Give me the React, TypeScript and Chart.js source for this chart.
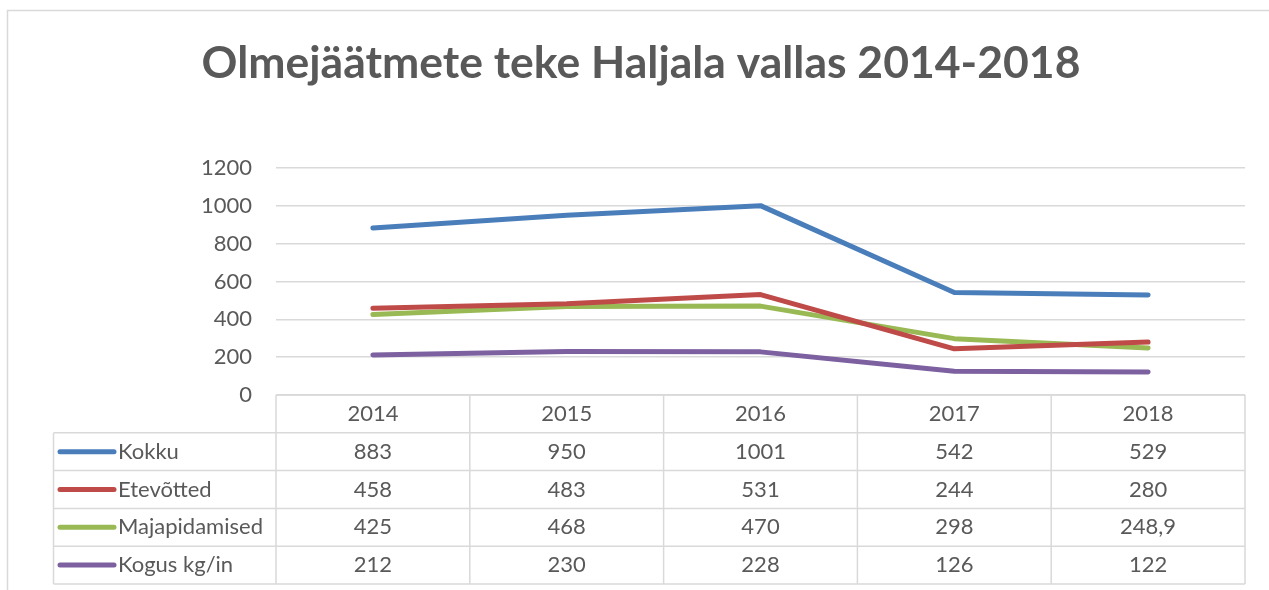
import React, { useEffect, useRef } from "react";
import { Chart, registerables } from "chart.js";

Chart.register(...registerables);

const TITLE = "Olmejäätmete teke Haljala vallas 2014-2018";
const years = ["2014", "2015", "2016", "2017", "2018"];
const seriesNames = ["Kokku", "Etevõtted", "Majapidamised", "Kogus kg/in"];
const kokku = [883, 950, 1001, 542, 529];
const ettevotted = [458, 483, 531, 244, 280];
const majapidamised = [425, 468, 470, 298, 248.9];
const kogus = [212, 230, 228, 126, 122];
const seriesColors = ["#4A7EBB", "#BE4B48", "#98B954", "#7D60A0"];
const yMin = 0;
const yMax = 1200;
const yStep = 200;

const TEXT = "#595959";
const LINE = "#D9D9D9";
const FONT = "Lato, 'Open Sans', sans-serif";

const fmt = (v: number) => String(v).replace(".", ",");

const framePlugin = {
  id: "excelFrame",
  beforeDraw(chart: any) {
    const { ctx, width, height } = chart;
    ctx.save();
    ctx.fillStyle = "#ffffff";
    ctx.fillRect(0, 0, width, height);
    ctx.strokeStyle = LINE;
    ctx.lineWidth = 1.5;
    ctx.beginPath();
    ctx.moveTo(7.5, height);
    ctx.lineTo(7.5, 10.5);
    ctx.lineTo(width, 10.5);
    ctx.stroke();
    ctx.fillStyle = TEXT;
    ctx.font = `bold 44.5px ${FONT}`;
    ctx.textAlign = "center";
    ctx.textBaseline = "alphabetic";
    ctx.fillText(TITLE, 641, 78);
    ctx.restore();
  },
};

const tablePlugin = {
  id: "excelTable",
  afterDraw(chart: any) {
    const { ctx, chartArea, scales } = chart;
    const xs = scales.x;
    const labels: string[] = chart.data.labels;
    const datasets = chart.data.datasets;
    const n = labels.length;
    const colW = (chartArea.right - chartArea.left) / n;
    const top = chartArea.bottom;
    const rowH = 37.8;
    const legendLeft = 53.5;
    const rows = datasets.length + 1;
    const bottom = top + rowH * rows;
    const line = (x1: number, y1: number, x2: number, y2: number) => {
      ctx.beginPath();
      ctx.moveTo(x1, y1);
      ctx.lineTo(x2, y2);
      ctx.stroke();
    };
    ctx.save();
    ctx.strokeStyle = LINE;
    ctx.lineWidth = 1.5;
    line(chartArea.left, top, chartArea.right, top);
    for (let r = 1; r <= rows; r++) {
      line(legendLeft, top + r * rowH, chartArea.right, top + r * rowH);
    }
    line(legendLeft, top + rowH, legendLeft, bottom);
    for (let c = 0; c <= n; c++) {
      const x = chartArea.left + c * colW;
      line(x, top, x, bottom);
    }

    ctx.fillStyle = TEXT;
    ctx.font = `22px ${FONT}`;
    ctx.textBaseline = "middle";
    ctx.textAlign = "center";
    labels.forEach((l, i) => {
      ctx.fillText(l, xs.getPixelForValue(i), top + rowH / 2);
    });
    datasets.forEach((ds: any, r: number) => {
      const cy = top + (r + 1.5) * rowH;
      ctx.strokeStyle = ds.borderColor;
      ctx.lineWidth = 5;
      ctx.lineCap = "round";
      line(60, cy, 114, cy);
      ctx.textAlign = "left";
      ctx.fillText(ds.label, 118, cy);
      ctx.textAlign = "center";
      ds.data.forEach((v: number, i: number) => {
        ctx.fillText(fmt(v), xs.getPixelForValue(i), cy);
      });
    });
    ctx.restore();
  },
};

export default function App() {
  const ref = useRef<HTMLCanvasElement | null>(null);
  useEffect(() => {
    if (!ref.current) return;
    const values = [kokku, ettevotted, majapidamised, kogus];
    const chart = new Chart(ref.current, {
      type: "line",
      data: {
        labels: years,
        datasets: seriesNames.map((name, i) => ({
          label: name,
          data: values[i],
          borderColor: seriesColors[i],
          backgroundColor: seriesColors[i],
          borderWidth: 5,
          pointRadius: 0,
          pointHoverRadius: 0,
          tension: 0,
          borderCapStyle: "round" as const,
          borderJoinStyle: "round" as const,
        })),
      },
      options: {
        responsive: false,
        animation: false,
        events: [],
        layout: { padding: { top: 168, right: 24, bottom: 195, left: 0 } },
        plugins: {
          legend: { display: false },
          title: { display: false },
          tooltip: { enabled: false },
        },
        scales: {
          x: {
            type: "category",
            display: false,
            offset: true,
          },
          y: {
            min: yMin,
            max: yMax,
            ticks: {
              stepSize: yStep,
              color: TEXT,
              padding: 24,
              font: { family: FONT, size: 22 },
              callback: (v: any) => String(v),
            },
            grid: { color: LINE, lineWidth: 1.5, drawTicks: false },
            border: { display: false },
            afterFit(scale: any) {
              scale.width = 276;
            },
          },
        },
      },
      plugins: [framePlugin, tablePlugin],
    });
    return () => chart.destroy();
  }, []);
  return (
    <div style={{ position: "absolute", left: 0, top: 0, width: 1269, height: 590 }}>
      <canvas ref={ref} width={1269} height={590} />
    </div>
  );
}
